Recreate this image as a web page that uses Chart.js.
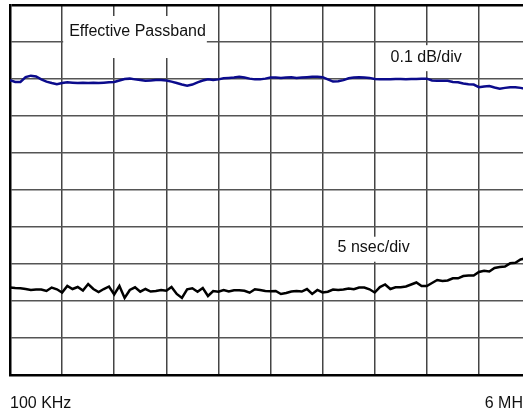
<!DOCTYPE html>
<html>
<head>
<meta charset="utf-8">
<script src="https://cdn.jsdelivr.net/npm/chart.js@4"></script>
<style>
  html, body { margin: 0; padding: 0; background: #fff; overflow: hidden; }
  #frame { width: 523px; height: 414px; overflow: hidden; position: relative; }
  #wrap { width: 541px; height: 414px; position: absolute; left: 0; top: 0; }
</style>
</head>
<body>
<div id="frame"><div id="wrap"><canvas id="myChart"></canvas></div></div>
<script>
// sweep: 100 KHz .. 6 MHz, 101 readings (10 per division)
const F_START = 0.1, F_STOP = 6;
const axisLabels = ['100 KHz', '6 MHz'];

// amplitude trace, dB (0.1 dB/div)
const passbandDb = [
  -0.003, -0.008, -0.008, 0.005, 0.009, 0.007, -0.001, -0.007, -0.011, -0.014,
  -0.011, -0.009, -0.010, -0.011, -0.010, -0.011, -0.010, -0.011, -0.010, -0.009,
  -0.008, -0.004, 0.000, 0.001, -0.001, -0.003, -0.005, -0.004, -0.003, -0.003,
  -0.004, -0.007, -0.011, -0.015, -0.018, -0.015, -0.009, -0.004, -0.001, -0.003,
  -0.001, 0.002, 0.003, 0.004, 0.006, 0.004, 0.001, -0.001, -0.001, 0.001,
  0.004, 0.004, 0.003, 0.004, 0.005, 0.003, 0.004, 0.005, 0.006, 0.006,
  0.005, -0.001, -0.007, -0.006, -0.003, 0.002, 0.004, 0.005, 0.004, 0.003,
  0.000, -0.001, -0.001, -0.001, 0.000, 0.000, -0.001, 0.000, 0.000, 0.001,
  0.001, -0.004, -0.005, -0.005, -0.005, -0.008, -0.009, -0.012, -0.014, -0.015,
  -0.022, -0.020, -0.019, -0.023, -0.026, -0.024, -0.022, -0.022, -0.024, -0.027,
  -0.027
];

// group delay trace, nsec (5 nsec/div)
const delayNs = [
  1.82, 1.76, 1.72, 1.62, 1.49, 1.55, 1.55, 1.35, 1.82, 1.58,
  1.15, 2.03, 1.62, 1.89, 1.42, 2.30, 1.62, 1.22, 1.62, 1.96,
  0.88, 2.03, 0.41, 1.49, 1.85, 1.26, 1.62, 1.28, 1.35, 1.49,
  1.39, 1.89, 0.95, 0.41, 1.58, 1.72, 1.26, 1.76, 0.68, 1.35,
  1.26, 1.49, 1.28, 1.45, 1.45, 1.39, 1.12, 1.58, 1.49, 1.35,
  1.32, 1.35, 0.95, 1.08, 1.28, 1.35, 1.28, 1.62, 0.95, 1.49,
  1.15, 1.26, 1.55, 1.49, 1.55, 1.69, 1.58, 1.82, 1.82, 1.58,
  1.15, 1.89, 2.23, 1.62, 1.85, 1.85, 1.96, 2.23, 2.50, 2.03,
  2.03, 2.43, 2.84, 2.70, 2.77, 3.07, 3.07, 3.38, 3.45, 3.45,
  3.92, 4.09, 3.99, 4.46, 4.59, 4.66, 5.09, 5.17, 5.61, 5.77,
  5.94
];

const step = (F_STOP - F_START) / (passbandDb.length - 1);
const freqs = passbandDb.map((_, i) => F_START + i * step);

// text boxes on the graticule: anchor = left/middle of text in axis units
const notes = [
  { text: 'Effective Passband', x: 0.77, y: 0.127, axis: 'y',  pad: [6, 1, 16, 26] },
  { text: '0.1 dB/div',         x: 4.41, y: 0.059, axis: 'y',  pad: [7, 3, 12, 14] },
  { text: '5 nsec/div',         x: 3.81, y: 7.2,   axis: 'y2', pad: [5, 5, 11, 14] }
];

const FONT = '"Liberation Sans", Arial, sans-serif';

const notesPlugin = {
  id: 'notes',
  beforeDatasetsDraw(chart) {
    const ctx = chart.ctx;
    ctx.save();
    ctx.font = '16px ' + FONT;
    ctx.textBaseline = 'middle';
    notes.forEach(n => {
      const px = chart.scales.x.getPixelForValue(n.x);
      const py = chart.scales[n.axis].getPixelForValue(n.y);
      const w = ctx.measureText(n.text).width;
      ctx.fillStyle = '#fff';
      ctx.fillRect(px - n.pad[0], py - n.pad[2], w + n.pad[0] + n.pad[1], n.pad[2] + n.pad[3]);
      ctx.fillStyle = '#111';
      ctx.fillText(n.text, px, py);
    });
    ctx.restore();
  }
};

const ctx = document.getElementById('myChart').getContext('2d');
const myChart = new Chart(ctx, {
  type: 'line',
  data: {
    datasets: [{
      label: 'Amplitude',
      data: freqs.map((f, i) => ({ x: f, y: passbandDb[i] })),
      borderColor: '#0b0b8c',
      borderWidth: 2.5,
      yAxisID: 'y'
    }, {
      label: 'Group delay',
      data: freqs.map((f, i) => ({ x: f, y: delayNs[i] })),
      borderColor: '#000',
      borderWidth: 2.5,
      yAxisID: 'y2'
    }]
  },
  options: {
    responsive: true,
    maintainAspectRatio: false,
    animation: false,
    layout: { padding: { left: 10, right: 10, top: 5, bottom: 0 } },
    elements: { point: { radius: 0 }, line: { tension: 0 } },
    plugins: { legend: { display: false }, tooltip: { enabled: false } },
    scales: {
      x: {
        type: 'linear',
        min: F_START, max: F_STOP,
        afterBuildTicks: s => { s.ticks = Array.from({ length: 11 }, (_, k) => ({ value: F_START + k * (F_STOP - F_START) / 10 })); },
        afterFit: s => { s.paddingLeft = 0; s.paddingRight = 0; s.height = 39; },
        ticks: {
          autoSkip: false, maxRotation: 0, align: 'inner', padding: 19,
          color: '#111', font: { family: FONT, size: 16 },
          callback: (v, i, t) => i === 0 ? axisLabels[0] : (i === t.length - 1 ? axisLabels[1] : '')
        },
        grid: { color: '#444', lineWidth: 1.5, drawTicks: false },
        border: { color: '#000', width: 2.5 }
      },
      y: {
        min: -0.8, max: 0.2,
        afterBuildTicks: s => { s.ticks = Array.from({ length: 11 }, (_, k) => ({ value: -0.8 + k * 0.1 })); },
        ticks: { display: false },
        grid: { color: c => c.index === 10 ? '#000' : '#555', lineWidth: c => c.index === 10 ? 2.5 : 1.5, drawTicks: false },
        border: { color: '#000', width: 2.5 }
      },
      y2: { min: -10, max: 40, display: false }
    }
  },
  plugins: [notesPlugin]
});
</script>
</body>
</html>
